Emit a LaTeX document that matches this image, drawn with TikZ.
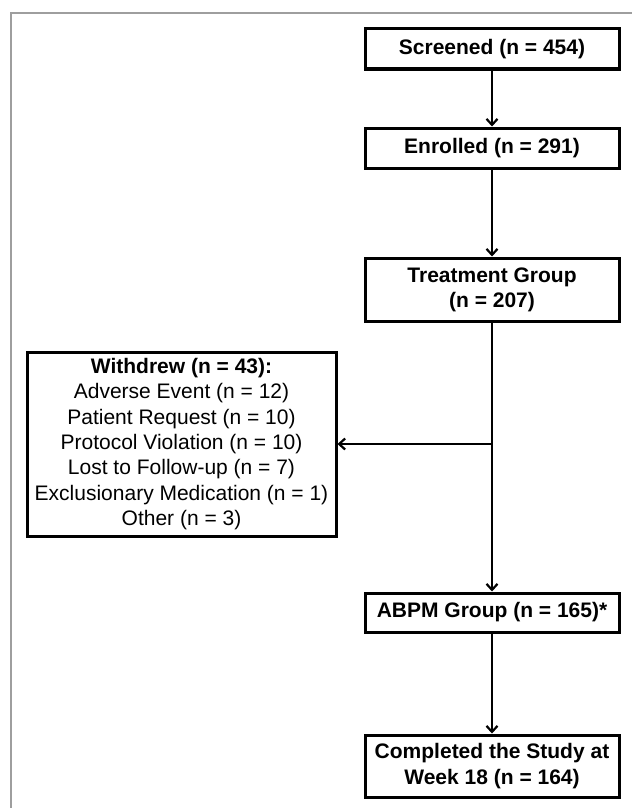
\documentclass[tikz,border=0pt]{standalone}
\usepackage{fontspec}
\setmainfont{Liberation Sans}
\usetikzlibrary{arrows.meta}
\tikzset{
  flowbox/.style={draw=black, line width=3pt, inner sep=0pt, align=center,
    minimum width=254pt, font=\fontsize{21}{25.3}\selectfont\bfseries},
  notebox/.style={draw=black, line width=3pt, inner sep=0pt, align=center,
    minimum width=309pt, minimum height=184pt, font=\fontsize{21}{25.3}\selectfont},
  flowarrow/.style={line width=2.2pt, -{Straight Barb[length=6pt,width=11pt,line width=2.2pt]}},
  flowline/.style={line width=2.2pt}
}
\begin{document}
\begin{tikzpicture}[x=1pt,y=-1pt]
                \useasboundingbox (0,0) rectangle (632,808);
                
                % Drawing frame
                \draw [line width=1.8pt, color=black!38] (11,808) -- (11,13) -- (632,13);%
                
                % Drawing box Screened
                \node [flowbox, minimum height=40pt] (scr) at (492,49) {Screened (n = 454)};%
                
                % Drawing box Enrolled
                \node [flowbox, minimum height=40pt] (enr) at (492,148) {Enrolled (n = 291)};%
                
                % Drawing box Treatment Group
                \node [flowbox, minimum height=63pt] (trt) at (492,289.5) {Treatment Group\\(n = 207)};%
                
                % Drawing box Withdrew
                \node [notebox] (wdr) at (181.5,444) {\textbf{Withdrew (n = 43):}\\
                  Adverse Event (n = 12)\\
                  Patient Request (n = 10)\\
                  Protocol Violation (n = 10)\\
                  Lost to Follow-up (n = 7)\\
                  Exclusionary Medication (n = 1)\\
                  Other (n = 3)};%
                
                % Drawing box ABPM Group
                \node [flowbox, minimum height=39pt] (abpm) at (492,612.5) {ABPM Group (n = 165)*};%
                
                % Drawing box Completed
                \node [flowbox, minimum height=62pt] (cmp) at (492,766) {Completed the Study at\\Week 18 (n = 164)};%
                
                % Drawing arrows down the main column
                \draw [flowarrow] (scr) -- (enr);%
                \draw [flowarrow] (enr) -- (trt);%
                \draw [flowarrow] (trt) -- (abpm);%
                \draw [flowarrow] (abpm) -- (cmp);%
                
                % Drawing branch to Withdrew
                \coordinate (br) at (trt.south |- wdr.east);%
                \draw [flowarrow] (br) -- (wdr.east);%
            \end{tikzpicture}
\end{document}
